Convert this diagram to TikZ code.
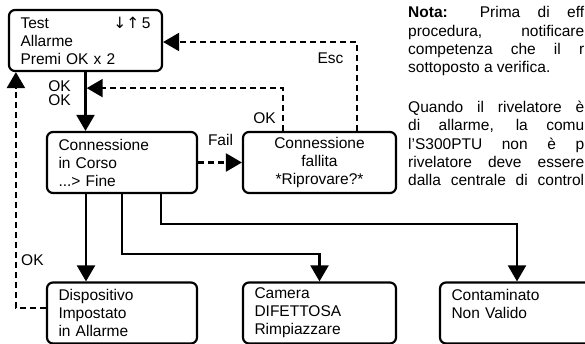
\documentclass[tikz,border=0pt]{standalone}
\usepackage{fontspec}
\setmainfont{Liberation Sans}
\newfontfamily\arrowfont{DejaVu Sans}
\usetikzlibrary{arrows.meta}

\tikzset{
  screen/.style={draw, line width=2.2pt, rounded corners=6pt, minimum height=61pt,
    inner xsep=11.5pt, align=left, font=\fontsize{15.5}{18}\selectfont},
  sline/.style={line width=2.2pt, -{Triangle[length=16pt,width=18pt]}},
  dline/.style={sline, dash pattern=on 6pt off 4pt},
  lbl/.style={inner sep=0pt, font=\fontsize{15.5}{14}\selectfont},
  nota/.style={anchor=base west, inner sep=0pt, align=left, font=\fontsize{15.5}{18.4}\selectfont}
}

\begin{document}
\begin{tikzpicture}[x=1pt,y=-1pt]
\clip (0,0) rectangle (585,344);
\node[screen, text width=130pt] (test) at (85.5,40.5) {Test\hfill{\arrowfont ↓↑}\,5\\Allarme\\Premi OK x 2};
\node[screen, text width=127pt] (conn) at (122,162.5) {Connessione\\in Corso\\...> Fine};
\node[screen, text width=130pt, align=center] (fail) at (319.5,162.5) {Connessione\\fallita\\{}*Riprovare?*};
\node[screen, text width=127pt] (allarme) at (122,313) {Dispositivo\\Impostato\\in Allarme};
\node[screen, text width=130pt] (camera) at (319.5,313) {Camera\\DIFETTOSA\\Rimpiazzare};
\node[screen, text width=131pt] (contam) at (517,313) {Contaminato\\Non Valido\\\phantom{A}};

\draw[sline] (test.south) -- (test.south |- conn.north);
\node[lbl, anchor=east, align=right] (okok) at (71,93) {OK\\OK};
\draw[dline] ([xshift=-36.5pt]fail.north) |- ([xshift=1.2pt,yshift=-16pt]test.south);
\node[lbl, anchor=east] (okretry) at (276,118) {OK};
\draw[dline] ([xshift=37.5pt]fail.north) |- ([yshift=-1.5pt]test.east);
\node[lbl] (esc) at (330.5,58) {Esc};
\draw[dline] (conn.east) -- (fail.west);
\node[lbl] (faillbl) at (220.5,140) {Fail};

\draw[sline] ([xshift=-36pt]conn.south) -- ([xshift=-36pt]allarme.north);
\draw[sline] (conn.south) -- ++(0,60) -| (camera.north);
\draw[sline] ([xshift=39pt]conn.south) -- ++(0,30) -| (contam.north);
\draw[dline] ([yshift=5pt]allarme.west) -| ([xshift=8pt]test.south west);
\node[lbl, anchor=west] (okback) at (21,260) {OK};

\node[nota] (nota) at (408,73) {\makebox[176pt][s]{\textbf{Nota:} Prima di eff}\\
  \makebox[176pt][s]{procedura, notificare}\\
  \makebox[176pt][s]{competenza che il r}\\
  sottoposto a verifica.};
\node[nota] (quando) at (408,186) {\makebox[176pt][s]{Quando il rivelatore è}\\
  \makebox[176pt][s]{di allarme, la comu}\\
  \makebox[176pt][s]{l’S300PTU non è p}\\
  \makebox[176pt][s]{rivelatore deve essere}\\
  \makebox[176pt][s]{dalla centrale di control}};
\end{tikzpicture}
\end{document}
